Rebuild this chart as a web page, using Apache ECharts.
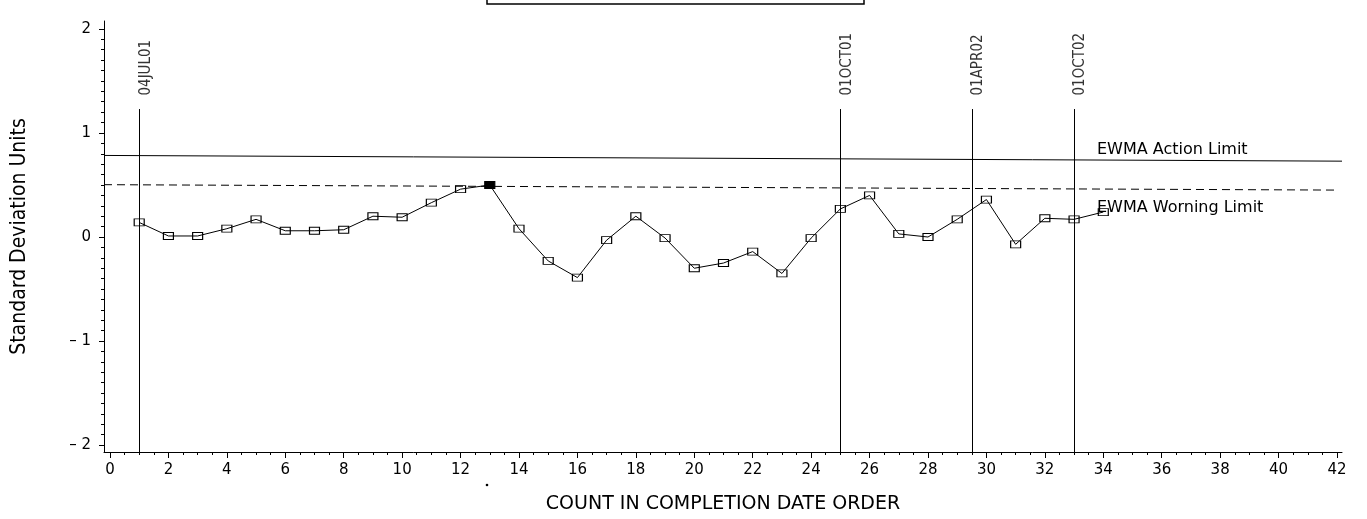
<!DOCTYPE html>
<html>
<head>
<meta charset="utf-8">
<script src="https://cdn.jsdelivr.net/npm/echarts@6/dist/echarts.min.js"></script>
<style>
html,body{margin:0;padding:0;background:#fff;}
#chart{width:1367px;height:519px;}
</style>
</head>
<body>
<div id="chart"></div>
<script>
// ---- data ----
const counts = [1,2,3,4,5,6,7,8,9,10,11,12,13,14,15,16,17,18,19,20,21,22,23,24,25,26,27,28,29,30,31,32,33,34];
const ewmaValues = [0.14,0.01,0.01,0.08,0.17,0.06,0.06,0.07,0.20,0.19,0.33,0.46,0.50,0.08,-0.23,-0.39,-0.03,0.20,-0.01,-0.30,-0.25,-0.14,-0.35,-0.01,0.27,0.40,0.03,0.00,0.17,0.36,-0.07,0.18,0.17,0.24];
const flaggedCount = 13;
const actionLimit = [[-0.205, 0.784], [42.171, 0.729]];
const warningLimit = [[-0.205, 0.503], [42.03, 0.451]];
const dateMarkers = [1, 25, 29.5, 33];
const dateLabels = ['04JUL01', '01OCT01', '01APR02', '01OCT02'];
const markerTop = 1.23;
const xTickLabels = [0,2,4,6,8,10,12,14,16,18,20,22,24,26,28,30,32,34,36,38,40,42];
const yTickLabels = [-2,-1,0,1,2];
const xRange = [-0.205, 42.171];
const yRange = [-2.066, 2.076];

// minor tick positions (every half count / every 0.1 unit)
const xMinorTicks = [];
for (let i = 0; i <= 84; i++) xMinorTicks.push(i / 2);
const yMinorTicks = [];
for (let i = -20; i <= 20; i++) yMinorTicks.push(i / 10);

const BLACK = '#000';
const WIDE = 'DejaVu Sans';
const NARROW = '"Liberation Sans Narrow", "DejaVu Sans Condensed", sans-serif';

const chart = echarts.init(document.getElementById('chart'), null, {renderer: 'canvas'});

const seriesPoints = counts.map((c, i) => {
  const item = {value: [c, ewmaValues[i]]};
  if (c === flaggedCount) item.itemStyle = {color: BLACK, borderColor: BLACK};
  return item;
});

const markerLines = dateMarkers.map(x => [{coord: [x, yRange[0]]}, {coord: [x, markerTop]}]);
const markerLabelPoints = dateMarkers.map((x, i) => ({value: [x, markerTop], name: dateLabels[i]}));

const option = {
  animation: false,
  backgroundColor: '#fff',
  grid: {left: 104, right: 25, top: 21, bottom: 66, containLabel: false},
  xAxis: [
    {
      type: 'value', position: 'bottom', min: xRange[0], max: xRange[1],
      axisLine: {show: true, onZero: false, lineStyle: {color: BLACK, width: 1}},
      axisTick: {show: true, length: 6, customValues: xTickLabels, lineStyle: {color: BLACK}},
      axisLabel: {show: true, customValues: xTickLabels, margin: 11, color: BLACK, fontFamily: WIDE, fontSize: 15},
      splitLine: {show: false},
      name: 'COUNT IN COMPLETION DATE ORDER', nameLocation: 'middle', nameGap: 43,
      nameTextStyle: {color: BLACK, fontFamily: WIDE, fontSize: 19}
    },
    {
      type: 'value', position: 'bottom', min: xRange[0], max: xRange[1],
      axisLine: {show: false, onZero: false},
      axisTick: {show: true, length: 3, customValues: xMinorTicks, lineStyle: {color: BLACK}},
      axisLabel: {show: false},
      splitLine: {show: false}
    }
  ],
  yAxis: [
    {
      type: 'value', position: 'left', min: yRange[0], max: yRange[1],
      axisLine: {show: true, onZero: false, lineStyle: {color: BLACK, width: 1}},
      axisTick: {show: true, length: 5, customValues: yTickLabels, lineStyle: {color: BLACK}},
      axisLabel: {
        show: true, customValues: yTickLabels, margin: 13, color: BLACK, fontFamily: WIDE, fontSize: 15,
        formatter: v => (v < 0 ? '\u2013 ' + Math.abs(v) : String(v))
      },
      splitLine: {show: false},
      name: 'Standard Deviation Units', nameLocation: 'middle', nameGap: 74,
      nameTextStyle: {color: BLACK, fontFamily: NARROW, fontSize: 21}
    },
    {
      type: 'value', position: 'left', min: yRange[0], max: yRange[1],
      axisLine: {show: false, onZero: false},
      axisTick: {show: true, length: 3, customValues: yMinorTicks, lineStyle: {color: BLACK}},
      axisLabel: {show: false},
      splitLine: {show: false}
    }
  ],
  series: [
    {
      name: 'Action limit', type: 'line', data: actionLimit, xAxisIndex: 0, yAxisIndex: 0,
      symbol: 'none', clip: false, silent: true,
      lineStyle: {color: BLACK, width: 1, type: 'solid'}
    },
    {
      name: 'Warning limit', type: 'line', data: warningLimit, xAxisIndex: 0, yAxisIndex: 0,
      symbol: 'none', clip: false, silent: true,
      lineStyle: {color: BLACK, width: 1, type: [8, 5]}
    },
    {
      name: 'Date markers', type: 'scatter', data: markerLabelPoints, xAxisIndex: 0, yAxisIndex: 0,
      symbol: 'circle', symbolSize: 1, itemStyle: {color: 'rgba(0,0,0,0)'}, silent: true,
      label: {
        show: true, formatter: p => p.name, rotate: 90, position: [7, -13],
        align: 'left', verticalAlign: 'middle',
        color: BLACK, fontFamily: NARROW, fontSize: 15
      },
      markLine: {
        silent: true, symbol: 'none', animation: false,
        label: {show: false},
        lineStyle: {color: BLACK, width: 1, type: 'solid'},
        emphasis: {disabled: true},
        data: markerLines
      }
    },
    {
      name: 'EWMA', type: 'line', data: seriesPoints, xAxisIndex: 0, yAxisIndex: 0,
      symbol: 'rect', symbolSize: [10, 7], showAllSymbol: true,
      lineStyle: {color: BLACK, width: 1},
      itemStyle: {color: 'rgba(255,255,255,0)', borderColor: BLACK, borderWidth: 1},
      z: 5
    }
  ],
  graphic: [
    {type: 'rect', shape: {x: 487, y: -20, width: 377, height: 24}, style: {fill: 'none', stroke: BLACK, lineWidth: 1.5}},
    {type: 'text', x: 1097, y: 150, style: {text: 'EWMA Action Limit', fill: BLACK, font: '16px "DejaVu Sans"', verticalAlign: 'middle'}},
    {type: 'text', x: 1097, y: 208, style: {text: 'EWMA Worning Limit', fill: BLACK, font: '16px "DejaVu Sans"', verticalAlign: 'middle'}},
    {type: 'circle', shape: {cx: 487, cy: 485, r: 1.3}, style: {fill: BLACK}}
  ]
};

chart.setOption(option);
</script>
</body>
</html>
